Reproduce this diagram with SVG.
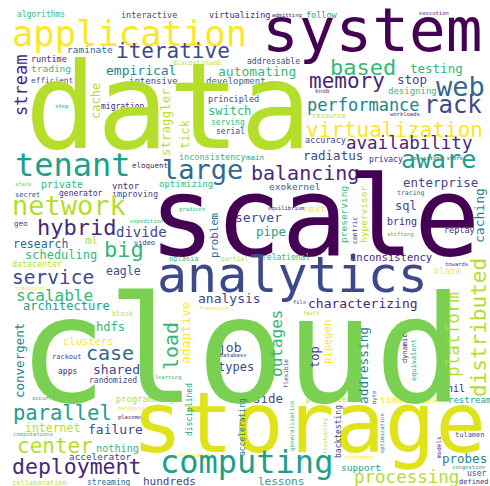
<svg xmlns="http://www.w3.org/2000/svg" width="490" height="486" viewBox="0 0 490 486">
<style>
text { font-family: "DejaVu Sans Mono", "Liberation Mono", monospace; }
.c0 { fill: #440154; } .c1 { fill: #482878; } .c2 { fill: #3e4989; } .c3 { fill: #31688e; }
.c4 { fill: #26828e; } .c5 { fill: #1f9e89; } .c6 { fill: #35b779; } .c7 { fill: #7ad151; }
.c8 { fill: #b5de2b; } .c9 { fill: #fde725; } .cy { fill: #dfe318; }
</style>
<rect width="490" height="486" fill="#ffffff"/>
<g id="words-horizontal">
<text x="17" y="17" font-size="8" class="c6">algorithms</text>
<text x="121" y="18" font-size="8.5" class="c2">interactive</text>
<text x="209" y="18" font-size="8.5" class="c1">virtualizing</text>
<text x="272" y="17" font-size="5.5" class="c1">admitting</text>
<text x="306" y="18" font-size="8.5" class="c5">follow</text>
<text x="419" y="15" font-size="5.5" class="c1">execution</text>
<text x="12" y="46" font-size="35.5" class="c9">application</text>
<text x="262" y="51" font-size="61" class="c0">system</text>
<text x="67" y="53" font-size="9.5" class="c3">raminate</text>
<text x="116" y="58" font-size="21" class="c2">iterative</text>
<text x="31" y="62" font-size="8.5" class="c1">runtime</text>
<text x="173" y="65" font-size="6.5" class="c8">discontinued</text>
<text x="247" y="64" font-size="8" class="c2">addressable</text>
<text x="31" y="72" font-size="9.5" class="c6">trading</text>
<text x="106" y="75" font-size="13" class="c4">empirical</text>
<text x="218" y="76" font-size="13" class="c6">automating</text>
<text x="330" y="75" font-size="22" class="c6">based</text>
<text x="410" y="73" font-size="12.5" class="c6">testing</text>
<text x="31" y="83" font-size="7.8" class="c2">efficient</text>
<text x="129" y="84" font-size="9" class="c2">intensive</text>
<text x="206" y="84" font-size="9" class="c3">development</text>
<text x="397" y="84" font-size="12.5" class="c2">stop</text>
<text x="309" y="88" font-size="21" class="c1">memory</text>
<text x="436" y="96" font-size="27" class="c3">web</text>
<text x="315" y="93" font-size="6" class="c2">knob</text>
<text x="388" y="94" font-size="9" class="c6">designing</text>
<text x="208" y="102" font-size="8.5" class="c2">principled</text>
<text x="101" y="109" font-size="8" class="c1">migration</text>
<text x="55" y="108" font-size="5.5" class="c5">step</text>
<text x="307" y="111" font-size="17" class="c4">performance</text>
<text x="424" y="113" font-size="24" class="c2">rack</text>
<text x="390" y="116" font-size="5.5" class="c1">workloads</text>
<text x="312" y="118" font-size="7" class="c8">resource</text>
<text x="208" y="115" font-size="12" class="c6">switch</text>
<text x="211" y="125" font-size="8" class="c6">serving</text>
<text x="216" y="134" font-size="8" class="c2">serial</text>
<text x="306" y="137" font-size="21" class="c9">virtualization</text>
<text x="305" y="143" font-size="8.5" class="c2">accuracy</text>
<text x="25" y="148" font-size="119" class="c8">data</text>
<text x="346" y="149" font-size="17.5" class="c1">availability</text>
<text x="179" y="160" font-size="8.5" class="c6">inconsistency</text>
<text x="246" y="160" font-size="7.5" class="c5">main</text>
<text x="303" y="160" font-size="12.5" class="c2">radiatus</text>
<text x="369" y="162" font-size="8" class="c1">privacy</text>
<text x="410" y="160" font-size="5.5" class="c2">consistent store</text>
<text x="401" y="168" font-size="25" class="c5">aware</text>
<text x="15" y="176" font-size="32" class="c5">tenant</text>
<text x="132" y="168" font-size="7.5" class="c1">eloquent</text>
<text x="162" y="179" font-size="27" class="c3">large</text>
<text x="251" y="180" font-size="20" class="c1">balancing</text>
<text x="403" y="187" font-size="12.5" class="c2">enterprise</text>
<text x="15" y="186" font-size="5.5" class="c7">stack</text>
<text x="41" y="188" font-size="10" class="c6">private</text>
<text x="112" y="189" font-size="9" class="c1">vntor</text>
<text x="159" y="187" font-size="9" class="c6">optimizing</text>
<text x="269" y="190" font-size="9.5" class="c3">exokernel</text>
<text x="397" y="195" font-size="6.5" class="c3">tracing</text>
<text x="15" y="197" font-size="7" class="c2">secret</text>
<text x="59" y="196" font-size="8" class="c1">generator</text>
<text x="112" y="197" font-size="8.5" class="c2">improving</text>
<text x="395" y="210" font-size="12" class="c2">sql</text>
<text x="12" y="215" font-size="27" class="c8">network</text>
<text x="179" y="211" font-size="5.5" class="c6">gradient</text>
<text x="268" y="210" font-size="5.5" class="c1">equilibrium</text>
<text x="304" y="212" font-size="9" class="c9">next</text>
<text x="235" y="222" font-size="13" class="c2">server</text>
<text x="130" y="223" font-size="5.5" class="c6">expedition</text>
<text x="387" y="225" font-size="10" class="c1">bring</text>
<text x="14" y="226" font-size="7.5" class="c2">geo</text>
<text x="37" y="235" font-size="22" class="c1">hybrid</text>
<text x="116" y="237" font-size="14" class="c2">divide</text>
<text x="256" y="236" font-size="12.5" class="c5">pipe</text>
<text x="387" y="236" font-size="5.5" class="c6">shifting</text>
<text x="444" y="233" font-size="8.5" class="c1">replay</text>
<text x="134" y="245" font-size="7" class="c1">video</text>
<text x="85" y="244" font-size="11" class="c8">ml</text>
<text x="13" y="248" font-size="11.5" class="c3">research</text>
<text x="104" y="257" font-size="22" class="c6">big</text>
<text x="25" y="259" font-size="12" class="c6">scheduling</text>
<text x="149" y="255" font-size="110" class="c0">scale</text>
<text x="169" y="261" font-size="7" class="c6">oplasia</text>
<text x="221" y="261" font-size="6.5" class="c8">partial</text>
<text x="262" y="260" font-size="8" class="c6">relational</text>
<text x="350" y="261" font-size="10.5" class="c1">inconsistency</text>
<text x="445" y="266" font-size="5.5" class="c2">towards</text>
<text x="12" y="267" font-size="8.3" class="c8">datacenter</text>
<text x="434" y="274" font-size="9" class="c9">blaze</text>
<text x="106" y="275" font-size="11.5" class="c2">eagle</text>
<text x="12" y="284" font-size="19.5" class="c2">service</text>
<text x="15" y="290" font-size="5.5" class="c9">transient</text>
<text x="157" y="292" font-size="50" class="c2">analytics</text>
<text x="125" y="299" font-size="5.5" class="c6">deep</text>
<text x="16" y="301" font-size="16" class="c6">scalable</text>
<text x="198" y="303" font-size="13" class="c2">analysis</text>
<text x="293" y="304" font-size="5.5" class="c2">file</text>
<text x="23" y="310" font-size="12" class="c5">architecture</text>
<text x="308" y="308" font-size="13" class="c1">characterizing</text>
<text x="199" y="310" font-size="5.5" class="c9">framework</text>
<text x="303" y="315" font-size="5.5" class="c8">fault</text>
<text x="112" y="316" font-size="7" class="c8">block</text>
<text x="96" y="331" font-size="12" class="c6">hdfs</text>
<text x="63" y="345" font-size="10.5" class="c9">clusters</text>
<text x="218" y="352" font-size="13" class="c2">job</text>
<text x="220" y="357" font-size="5.5" class="c2">Database</text>
<text x="86" y="360" font-size="20" class="c3">case</text>
<text x="52" y="359" font-size="7" class="c2">rackout</text>
<text x="218" y="371" font-size="12" class="c2">types</text>
<text x="58" y="374" font-size="8" class="c1">apps</text>
<text x="93" y="374" font-size="13" class="c2">shared</text>
<text x="155" y="379" font-size="5.5" class="c6">learning</text>
<text x="89" y="383" font-size="8" class="c2">randomized</text>
<text x="253" y="403" font-size="12.5" class="c2">side</text>
<text x="32" y="400" font-size="5.5" class="c5">occurring</text>
<text x="306" y="402" font-size="8.5" class="c8">persistent</text>
<text x="380" y="403" font-size="9.5" class="c9">timeliness</text>
<text x="448" y="403" font-size="9" class="c5">restream</text>
<text x="447" y="392" font-size="10" class="c1">hil</text>
<text x="116" y="402" font-size="8.8" class="c8">programming</text>
<text x="118" y="410" font-size="5.5" class="c9">managing</text>
<text x="18" y="402" font-size="148" class="c7">cloud</text>
<text x="118" y="419" font-size="5.5" class="c1">placement</text>
<text x="13" y="420" font-size="20.5" class="c5">parallel</text>
<text x="25" y="432" font-size="11.5" class="c8">internet</text>
<text x="88" y="434" font-size="13" class="c2">failure</text>
<text x="13" y="436" font-size="5.5" class="c6">computations</text>
<text x="455" y="437" font-size="7" class="c2">tulamen</text>
<text x="132" y="452" font-size="84" class="cy">storage</text>
<text x="17" y="453" font-size="21" class="c8">center</text>
<text x="96" y="452" font-size="10.2" class="c6">nothing</text>
<text x="174" y="457" font-size="5.5" class="c9">environments</text>
<text x="69" y="460" font-size="9.4" class="c2">accelerator</text>
<text x="345" y="459" font-size="5.5" class="c9">exchanger</text>
<text x="442" y="463" font-size="12.5" class="c4">probes</text>
<text x="452" y="469" font-size="5.5" class="c5">congestion</text>
<text x="341" y="471" font-size="9.5" class="c5">support</text>
<text x="160" y="473" font-size="32" class="c5">computing</text>
<text x="12" y="474" font-size="21.5" class="c1">deployment</text>
<text x="467" y="476" font-size="8" class="c2">user</text>
<text x="459" y="484" font-size="7" class="c1">defined</text>
<text x="354" y="483" font-size="17.5" class="c8">processing</text>
<text x="258" y="485" font-size="11" class="c5">lessons</text>
<text x="143" y="485" font-size="11" class="c2">hundreds</text>
<text x="87" y="485" font-size="8" class="c3">streaming</text>
<text x="12" y="485" font-size="7" class="c8">collaboration</text>
</g>
<g id="words-vertical">
<text transform="translate(27,116) rotate(-90)" font-size="17" class="c1">stream</text>
<text transform="translate(100,119) rotate(-90)" font-size="12" class="c8">cache</text>
<text transform="translate(170,156) rotate(-90)" font-size="12.5" class="c8">straggler</text>
<text transform="translate(189,149) rotate(-90)" font-size="12" class="c8">tick</text>
<text transform="translate(218,258) rotate(-90)" font-size="10.7" class="c3">problem</text>
<text transform="translate(190,364) rotate(-90)" font-size="13" class="c9">adaptive</text>
<text transform="translate(178,370) rotate(-90)" font-size="20" class="c6">load</text>
<text transform="translate(347,243) rotate(-90)" font-size="9.5" class="c6">preserving</text>
<text transform="translate(367,243) rotate(-90)" font-size="9.5" class="c8">hypervisor</text>
<text transform="translate(357,244) rotate(-90)" font-size="6.5" class="c1">centric</text>
<text transform="translate(484,243) rotate(-90)" font-size="13" class="c4">caching</text>
<text transform="translate(459,377) rotate(-90)" font-size="17.7" class="c8">platform</text>
<text transform="translate(486,397) rotate(-90)" font-size="21" class="c8">distributed</text>
<text transform="translate(24,398) rotate(-90)" font-size="12.5" class="c4">convergent</text>
<text transform="translate(282,377) rotate(-90)" font-size="16" class="c6">outages</text>
<text transform="translate(319,368) rotate(-90)" font-size="12" class="c2">top</text>
<text transform="translate(331,364) rotate(-90)" font-size="10.5" class="c9">pipegen</text>
<text transform="translate(368,404) rotate(-90)" font-size="12.8" class="c4">addressing</text>
<text transform="translate(288,388) rotate(-90)" font-size="6" class="c2">flexible</text>
<text transform="translate(192,436) rotate(-90)" font-size="8" class="c5">disciplined</text>
<text transform="translate(245,456) rotate(-90)" font-size="8" class="c4">accelerating</text>
<text transform="translate(294,451) rotate(-90)" font-size="6" class="c6">generalization</text>
<text transform="translate(341,458) rotate(-90)" font-size="8" class="c2">backtesting</text>
<text transform="translate(327,454) rotate(-90)" font-size="5.5" class="c8">trustworthy</text>
<text transform="translate(407,363) rotate(-90)" font-size="7" class="c1">dynamic</text>
<text transform="translate(416,381) rotate(-90)" font-size="7" class="c5">equivalent</text>
<text transform="translate(441,458) rotate(-90)" font-size="6" class="c1">models</text>
<text transform="translate(384,453) rotate(-90)" font-size="5.5" class="c4">optimization</text>
<text transform="translate(376,404) rotate(-90)" font-size="5.5" class="c2">byte</text>
</g>
</svg>
